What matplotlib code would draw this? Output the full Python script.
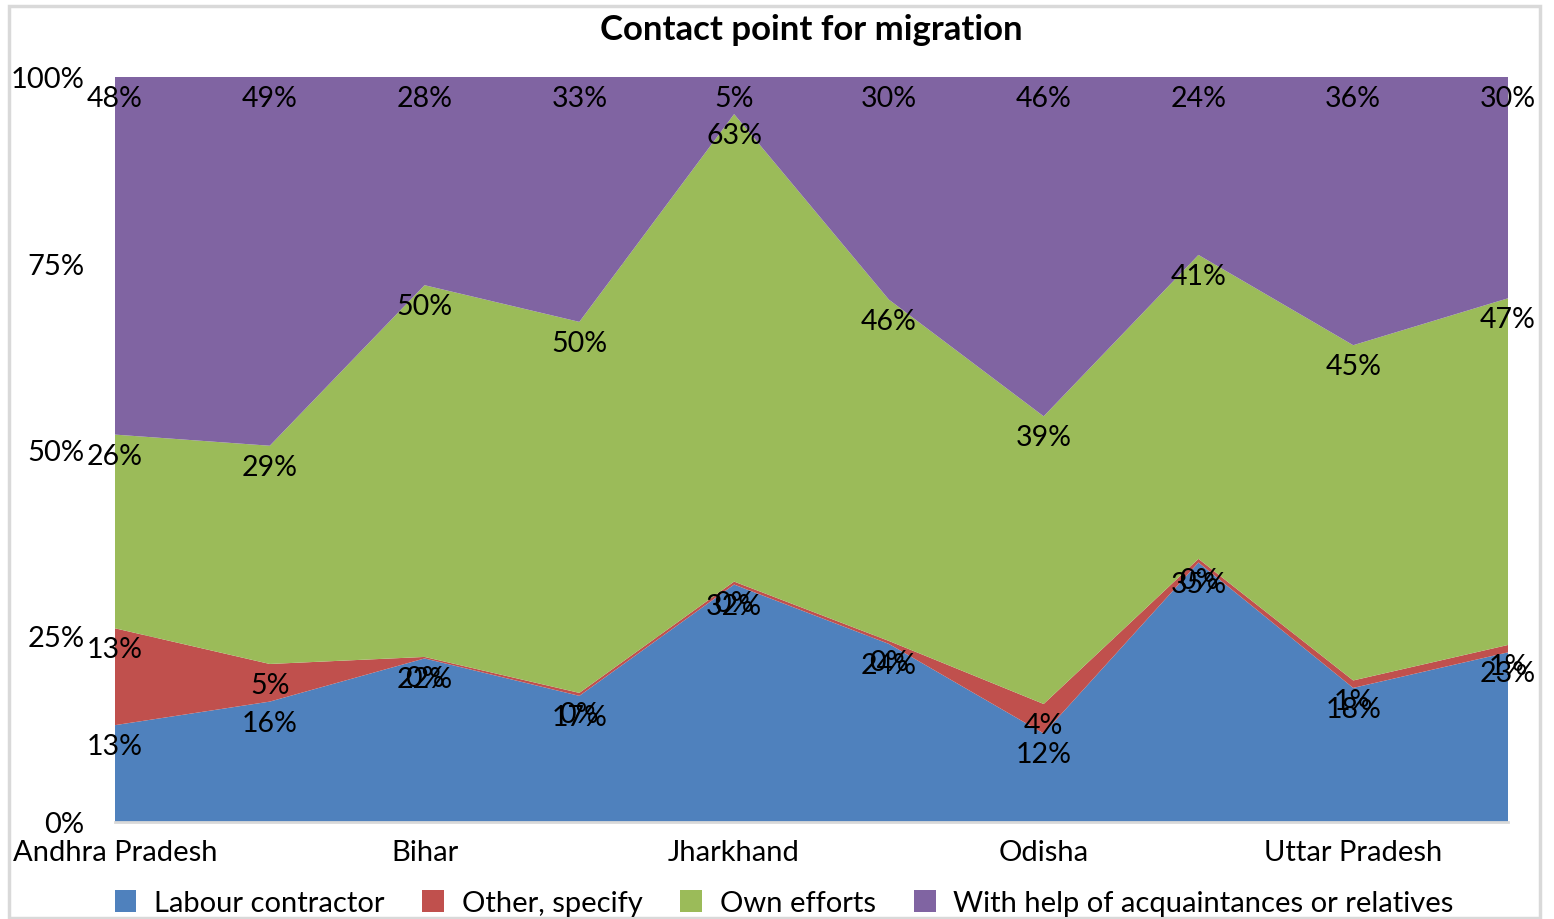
import numpy as np
import matplotlib.pyplot as plt
from matplotlib.patches import Rectangle

plt.rcParams['font.family'] = ['Lato', 'DejaVu Sans']

# categories (only every other name is printed on the chart)
categories = ['Andhra Pradesh', '', 'Bihar', '', 'Jharkhand', '', 'Odisha', '', 'Uttar Pradesh', '']
series_names = ['Labour contractor', 'Other, specify', 'Own efforts',
                'With help of acquaintances or relatives']
labour = [13, 16, 22, 17, 32, 24, 12, 35, 18, 23]
other = [13, 5, 0.2, 0.4, 0.4, 0.4, 4, 0.5, 1, 1]
own = [26, 29, 50, 50, 63, 46, 39, 41, 45, 47]
helped = [48, 49, 28, 33, 5, 30, 46, 24, 36, 30]
colors = ['#4F81BD', '#C0504D', '#9BBB59', '#8064A2']

data = np.array([labour, other, own, helped], dtype=float)
share = data / data.sum(axis=0) * 100
x = np.arange(len(categories))

fig = plt.figure(figsize=(15.54, 9.2), dpi=100)
ax = fig.add_axes([115 / 1554, 97 / 920, 1393 / 1554, 745 / 920])

ax.stackplot(x, share, colors=colors, labels=series_names, zorder=2)

# data labels just under the top of each band
tops = np.cumsum(share, axis=0)
for i in range(len(series_names)):
    for j in range(len(x)):
        ax.annotate(f'{data[i][j]:.0f}%', (x[j], tops[i][j]), xytext=(0, -21),
                    textcoords='offset pixels', ha='center', va='center',
                    fontsize=20.5, color='black', annotation_clip=False, zorder=5)

ax.set_xlim(0, len(x) - 1)
ax.set_ylim(0, 100)
ax.set_yticks([0, 25, 50, 75, 100])
ax.set_yticklabels(['0%', '25%', '50%', '75%', '100%'])
ax.set_xticks(x[::2])
ax.set_xticklabels(categories[::2])
ax.tick_params(axis='y', length=0, pad=22, labelsize=21)
ax.tick_params(axis='x', length=0, pad=12, labelsize=21)
ax.grid(axis='y', color='#d9d9d9', linewidth=2)
ax.set_axisbelow(True)
for s in ['left', 'right', 'top']:
    ax.spines[s].set_visible(False)
ax.spines['bottom'].set_color('#d9d9d9')
ax.spines['bottom'].set_linewidth(2)

ax.set_title('Contact point for migration', fontsize=25, fontweight='bold', pad=27)

fig.legend(loc='center', bbox_to_anchor=(784 / 1554, 1 - 904 / 920), ncol=4,
           frameon=False, fontsize=21, handlelength=0.75, handleheight=0.75,
           handletextpad=0.6, columnspacing=1.3)

# chart border
fig.patches.append(Rectangle((9 / 1554, 1 / 920), 1531 / 1554, 912 / 920,
                             transform=fig.transFigure, fill=False,
                             edgecolor='#d9d9d9', linewidth=2.5))

plt.savefig('out.png', dpi=100)
